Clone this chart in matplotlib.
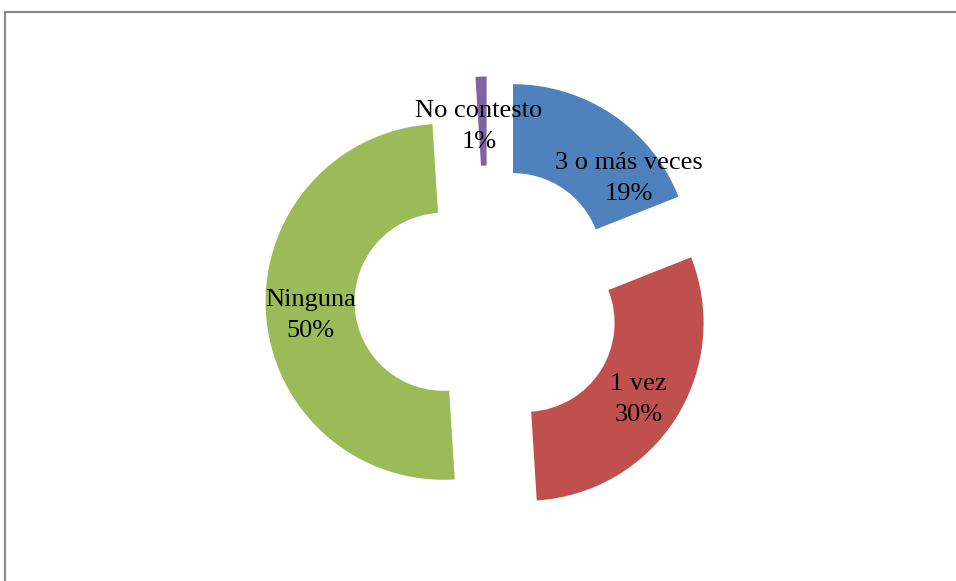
import matplotlib
matplotlib.use('Agg')
import matplotlib.pyplot as plt
from matplotlib.patches import Rectangle

labels = ['3 o más veces', '1 vez', 'Ninguna', 'No contesto']
values = [19, 30, 50, 1]
colors = ['#4F81BD', '#C0504D', '#9BBB59', '#8064A2']

plt.rcParams['font.family'] = ['Liberation Serif', 'DejaVu Serif']

W, H = 956, 581
R = 178.0          # outer radius in px
cx, cy = 488, 581 - 299

fig = plt.figure(figsize=(W / 100, H / 100), dpi=100)
ax = fig.add_axes([0, 0, 1, 1])

texts = ['%s\n%d%%' % (l, v) for l, v in zip(labels, values)]
wedges, txt = ax.pie(values, labels=texts, colors=colors, startangle=90,
                     counterclock=False, explode=[0.25] * 4, radius=1.0,
                     labeldistance=0.75,
                     wedgeprops=dict(width=0.5, edgecolor='none'),
                     textprops=dict(fontsize=19, color='black'))
for t in txt:
    t.set_ha('center')
    t.set_va('center')
    t.set_multialignment('center')
    t.set_linespacing(1.55)
    x, y = t.get_position()
    t.set_position((x, y - 0.03))

# Excel shifted the blue label to fit inside the segment
x, y = txt[0].get_position()
txt[0].set_position((x + 0.23, y - 0.12))
x, y = txt[3].get_position()
txt[3].set_position((x - 0.02, y))

ax.set_xlim(-cx / R, (W - cx) / R)
ax.set_ylim(-cy / R, (H - cy) / R)
ax.axis('off')

fig.patches.append(Rectangle((4.5 / W, -0.1), 1.2, (H - 12.5) / H + 0.1,
                             transform=fig.transFigure, fill=False,
                             edgecolor='#8C8C8C', linewidth=1.6))

fig.savefig('out.png', dpi=100)
